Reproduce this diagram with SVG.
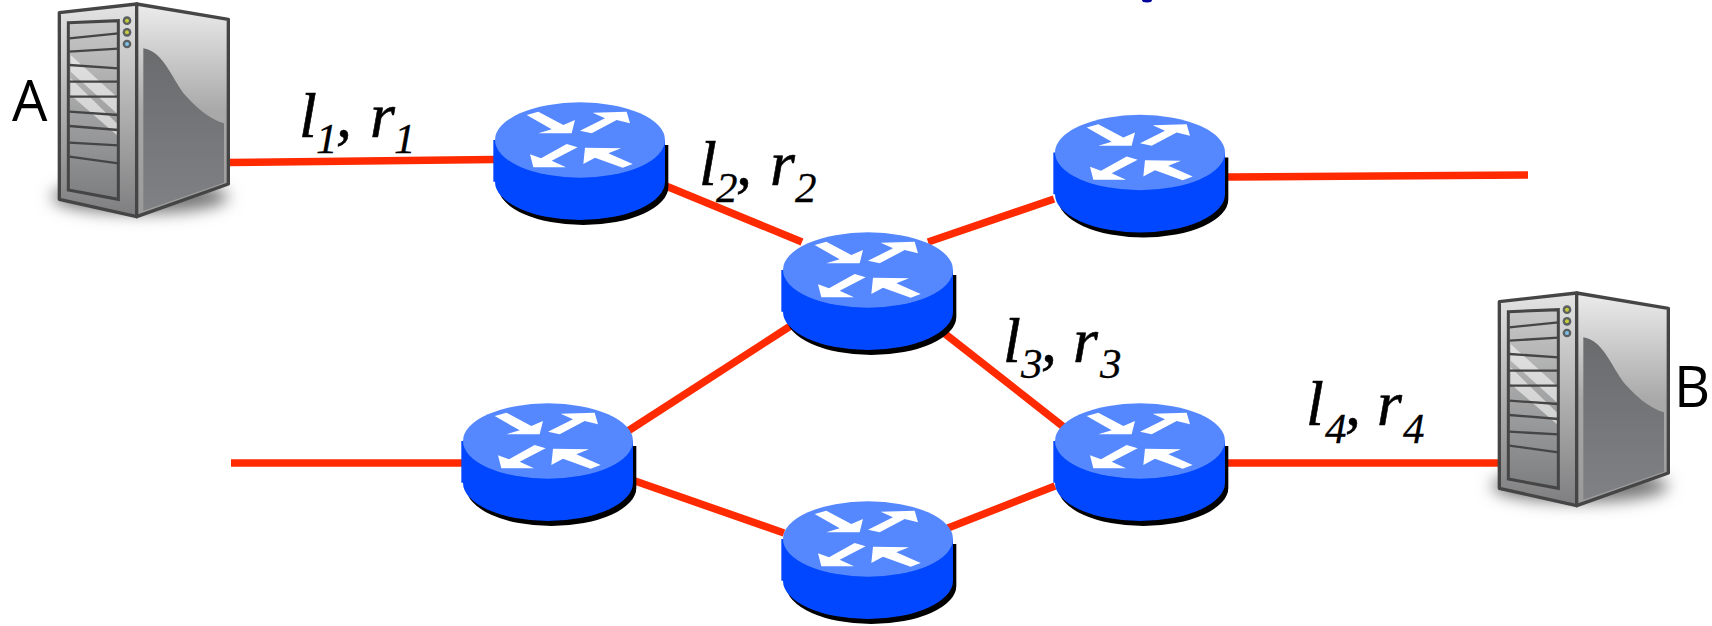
<svg xmlns="http://www.w3.org/2000/svg" width="1712" height="626" viewBox="0 0 1712 626">
<style>
.link{stroke:#ff2a00;stroke-width:7.5;fill:none}
.big{font-family:"Liberation Serif",serif;font-style:italic;font-size:64px;fill:#000;stroke:#000;stroke-width:.6}
.sub{font-family:"Liberation Serif",serif;font-style:italic;font-size:43px;fill:#000;stroke:#000;stroke-width:.3}
.name{font-family:"Open Sans",sans-serif;font-size:56px;fill:#000}
.d{stroke:#454545;fill:none}
</style>
<defs>
<linearGradient id="gf" x1="0" y1="0" x2="0" y2="1"><stop offset="0" stop-color="#e4e4e4"/><stop offset=".5" stop-color="#b0b0b0"/><stop offset="1" stop-color="#7e7e80"/></linearGradient>
<linearGradient id="gs" x1="0" y1="0" x2="0" y2="1"><stop offset="0" stop-color="#ececec"/><stop offset=".5" stop-color="#a9a9a9"/><stop offset="1" stop-color="#9a9a9a"/></linearGradient>
<linearGradient id="gb" x1="0" y1="0" x2="0" y2="1"><stop offset="0" stop-color="#c8c8c8"/><stop offset="1" stop-color="#7d7e80"/></linearGradient>
<linearGradient id="gw" x1="0" y1="0" x2="0" y2="1"><stop offset="0" stop-color="#6a6b6d"/><stop offset="1" stop-color="#808184"/></linearGradient>
<filter id="bl" x="-30%" y="-100%" width="160%" height="300%"><feGaussianBlur stdDeviation="24"/></filter>
<g id="router" transform="translate(-100,-50) scale(.33333)">
<path fill="#000" d="M50 165H565V290A255 115 0 0 1 55 290H50Z"/>
<path fill="#0047ff" d="M40 150H555V275A255 115 0 0 1 45 275H40Z"/>
<ellipse cx="300" cy="150" rx="255" ry="113" fill="#5588ff"/>
<g fill="#fff">
<polygon points="140,75 175,65 250,105 285,90 275,130 175,130 215,118"/>
<polygon points="300,122 375,85 338,68 440,65 450,100 410,90 335,130"/>
<polygon points="260,162 293,172 215,212 258,232 160,232 150,193 183,205"/>
<polygon points="310,222 315,173 423,175 385,190 458,222 428,233 345,203"/>
</g>
</g>
<g id="server" transform="scale(.33333)">
<ellipse cx="420" cy="590" rx="265" ry="50" fill="#777" filter="url(#bl)"/>
<polygon points="178,38 410,12 410,650 178,598" fill="url(#gf)" stroke="#454545" stroke-width="10" stroke-linejoin="round"/>
<polygon points="410,12 685,58 685,552 410,650" fill="url(#gs)" stroke="#454545" stroke-width="10" stroke-linejoin="round"/>
<path d="M430 145C495 155 520 250 560 290C600 335 640 360 672 370V548L430 632Z" fill="url(#gw)"/>
<polygon points="205,68 355,62 355,598 205,570" fill="url(#gb)" stroke="#454545" stroke-width="9"/>
<polygon points="212,165 350,290 350,340 212,215" fill="#fff" opacity=".55"/>
<polygon points="212,235 350,370 350,405 212,285" fill="#fff" opacity=".55"/>
<path class="d" stroke-width="7" d="M208 115L355 100M208 155L355 146M208 195L355 205M208 245L355 245M208 290L355 290M208 335L355 345M208 378L355 390M208 428L355 436M208 470L355 490"/>
<circle cx="381" cy="62" r="13" fill="#5a5f60"/><circle cx="381" cy="62" r="6" fill="#c8cc3a"/>
<circle cx="381" cy="97" r="13" fill="#5a5f60"/><circle cx="381" cy="97" r="6" fill="#c8cc3a"/>
<circle cx="381" cy="132" r="13" fill="#5a5f60"/><circle cx="381" cy="132" r="6" fill="#7cc0ea"/>
</g>
</defs>
<rect width="1712" height="626" fill="#fff"/>
<ellipse cx="1147" cy="0" rx="5" ry="2.5" fill="#00009c"/>
<g id="connectors">
<line class="link" x1="227" y1="162.5" x2="494" y2="159.5"/>
<line class="link" x1="666" y1="186" x2="802" y2="242"/>
<line class="link" x1="928" y1="242" x2="1054" y2="199"/>
<line class="link" x1="1228" y1="177" x2="1528" y2="175"/>
<line class="link" x1="944" y1="333" x2="1065" y2="428"/>
<line class="link" x1="792" y1="325" x2="628" y2="431"/>
<line class="link" x1="231" y1="463" x2="462" y2="463"/>
<line class="link" x1="635" y1="481" x2="784" y2="533"/>
<line class="link" x1="948" y1="528" x2="1055" y2="486"/>
<line class="link" x1="1228" y1="463" x2="1499" y2="463"/>
</g>
<g id="serverA"><use href="#server"/><text class="name" x="12" y="121">A</text></g>
<g id="serverB"><use href="#server" transform="translate(1440,289)"/><text class="name" x="1674" y="407">B</text></g>
<g id="router1"><use href="#router" transform="translate(580,140)"/></g>
<g id="router2"><use href="#router" transform="translate(868,270)"/></g>
<g id="router3"><use href="#router" transform="translate(1140,152.500)"/></g>
<g id="router4"><use href="#router" transform="translate(548,441)"/></g>
<g id="router5"><use href="#router" transform="translate(868,539)"/></g>
<g id="router6"><use href="#router" transform="translate(1140,441)"/></g>
<g id="label1"><text class="big" x="299" y="137">l</text><text class="sub" x="316" y="153">1</text><text class="big" x="336" y="137">,</text><text class="big" x="370" y="137">r</text><text class="sub" x="394" y="153">1</text></g>
<g id="label2"><text class="big" x="699" y="185">l</text><text class="sub" x="716" y="202">2</text><text class="big" x="736" y="185">,</text><text class="big" x="770" y="185">r</text><text class="sub" x="795" y="202">2</text></g>
<g id="label3"><text class="big" x="1003" y="362">l</text><text class="sub" x="1021" y="378">3</text><text class="big" x="1041" y="362">,</text><text class="big" x="1073" y="362">r</text><text class="sub" x="1100" y="378">3</text></g>
<g id="label4"><text class="big" x="1306" y="425">l</text><text class="sub" x="1325" y="443">4</text><text class="big" x="1345" y="425">,</text><text class="big" x="1377" y="425">r</text><text class="sub" x="1403" y="443">4</text></g>
</svg>
